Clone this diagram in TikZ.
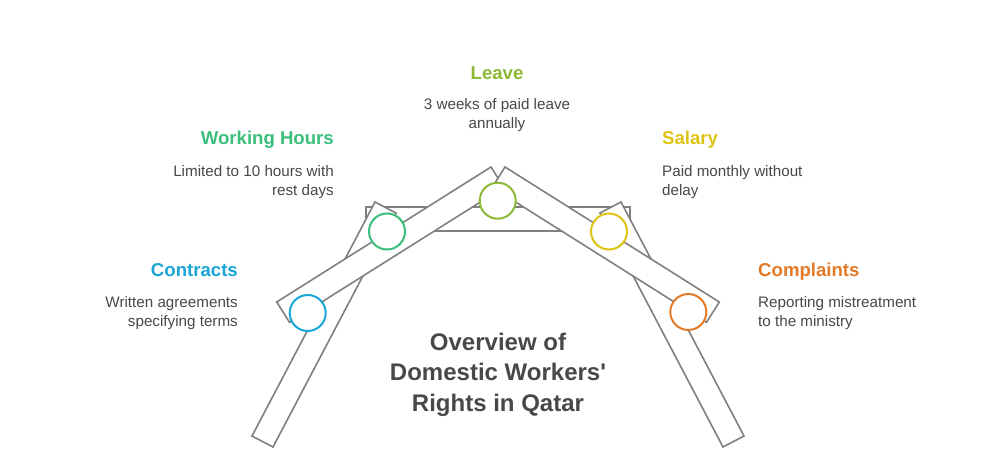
\documentclass[tikz,border=0pt]{standalone}
\usepackage{fontspec}
\setmainfont{Liberation Sans}[Ligatures=TeXOff]
\definecolor{plankgray}{RGB}{128,128,128}
\definecolor{txtgray}{RGB}{72,72,72}
\definecolor{cblue}{RGB}{26,166,214}
\definecolor{cgreen}{RGB}{58,190,122}
\definecolor{colive}{RGB}{140,186,56}
\definecolor{cyellow}{RGB}{222,196,18}
\definecolor{corange}{RGB}{226,122,40}
\begin{document}
\begin{tikzpicture}[x=1pt,y=-1pt,
  plank/.style={draw=plankgray, line width=1.6pt, fill=white, line join=miter},
  ring/.style={circle, draw, line width=2pt, fill=white, minimum size=36pt, inner sep=0pt},
  head/.style={font=\fontsize{18.6}{22}\selectfont\bfseries, inner sep=0pt},
  body/.style={font=\fontsize{15.2}{19}\selectfont, text=txtgray, inner sep=0pt},
  ttl/.style={font=\fontsize{24}{30.5}\selectfont\bfseries, text=txtgray, align=center, inner sep=0pt}]
\useasboundingbox[fill=white] (0,0) rectangle (996,476);
% planks
\draw[plank] (366,207) rectangle (630,231);
\draw[plank] (252,436) -- (273,447) -- (396,213) -- (375,202) -- cycle;
\draw[plank] (744,436) -- (723,447) -- (600,213) -- (621,202) -- cycle;
\draw[plank] (276.7,302) -- (289.5,322.3) -- (503.8,187.3) -- (491,167) -- cycle;
\draw[plank] (719.3,302) -- (706.5,322.3) -- (492.2,187.3) -- (505,167) -- cycle;
% circles
\node[ring, draw=cblue] (c1) at (307.7,313) {};
\node[ring, draw=cgreen] (c2) at (387,231.5) {};
\node[ring, draw=colive] (c3) at (497.7,200.7) {};
\node[ring, draw=cyellow] (c4) at (609,231.5) {};
\node[ring, draw=corange] (c5) at (688.3,312) {};
% texts
\node[head, text=colive, anchor=base] (h3) at (497,79.8) {Leave};
\node[body, align=center] (b3) at (497,115.3) {3 weeks of paid leave\\annually};
\node[head, text=cgreen, anchor=base east] (h2) at (334,144.8) {Working Hours};
\node[body, align=right, anchor=east] (b2) at (334,181.8) {Limited to 10 hours with\\rest days};
\node[head, text=cyellow, anchor=base west] (h4) at (662,144.8) {Salary};
\node[body, align=left, anchor=west] (b4) at (662,181.8) {Paid monthly without\\delay};
\node[head, text=cblue, anchor=base east] (h1) at (238,276.8) {Contracts};
\node[body, align=right, anchor=east] (b1) at (238,313.3) {Written agreements\\specifying terms};
\node[head, text=corange, anchor=base west] (h5) at (758,276.8) {Complaints};
\node[body, align=left, anchor=west] (b5) at (758,313.3) {Reporting mistreatment\\to the ministry};
\node[ttl] (t) at (498,374.5) {Overview of\\Domestic Workers'\\Rights in Qatar};
\end{tikzpicture}
\end{document}
